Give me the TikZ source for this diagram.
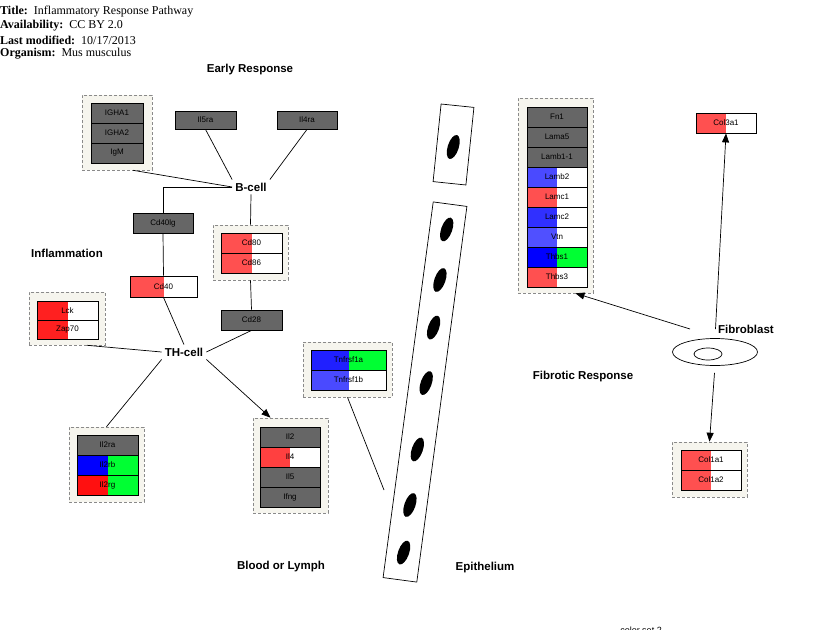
\documentclass[tikz,border=0pt]{standalone}
\usepackage{fontspec}
\setmainfont{Liberation Serif}
\setsansfont{Liberation Sans}
\usetikzlibrary{arrows.meta,shapes.geometric}

\definecolor{genegray}{HTML}{666666}
\definecolor{groupfill}{HTML}{F6F5EE}
\definecolor{groupline}{HTML}{8A8A8A}
\definecolor{softred}{HTML}{FF5050}
\definecolor{deepred}{HTML}{FF2020}
\definecolor{brightred}{HTML}{FF1010}
\definecolor{midred}{HTML}{FF4040}
\definecolor{pureblue}{HTML}{0000FF}
\definecolor{darkblue}{HTML}{2020FF}
\definecolor{midblue}{HTML}{3030FF}
\definecolor{softblue}{HTML}{4A4AFF}
\definecolor{paleblue}{HTML}{5050FF}
\definecolor{upgreen}{HTML}{00FF33}

\begin{document}
\begin{tikzpicture}[x=1pt,y=-1pt,
    gene/.style={draw=black, line width=0.8pt, fill=genegray, minimum width=60,
      minimum height=20, inner sep=0pt, font=\sffamily\fontsize{8}{9}\selectfont},
    twotone/.style 2 args={path picture={
      \fill[#1] (path picture bounding box.south west) rectangle (path picture bounding box.north);
      \fill[#2] (path picture bounding box.south) rectangle (path picture bounding box.north east);}},
    group/.style={draw=groupline, fill=groupfill, line width=0.6pt,
      dash pattern=on 3pt off 2pt, inner sep=0pt},
    region/.style={font=\sffamily\bfseries\fontsize{11.5}{13}\selectfont, inner sep=3pt},
    meta/.style={anchor=west, inner sep=0pt, font=\fontsize{12}{14}\selectfont},
    link/.style={line width=0.7pt},
    push/.style={link, -{Triangle[length=9pt,width=7pt]}}]
  \useasboundingbox (0,0) rectangle (818,629);

  % header
  \node[meta] (title) at (0,12) {\textbf{Title:}\ \ Inflammatory Response Pathway};
  \node[meta] (avail) at (0,26) {\textbf{Availability:}\ \ CC BY 2.0};
  \node[meta] (modif) at (0,40) {\textbf{Last modified:}\ \ 10/17/2013};
  \node[meta] (organ) at (0,54) {\textbf{Organism:}\ \ Mus musculus};

  % region labels
  \node[region] (early) at (250,70) {Early Response};
  \node[region] (bcell) at (251,187) {B-cell};
  \node[region] (inflam) at (67,253) {Inflammation};
  \node[region] (thcell) at (184,352) {TH-cell};
  \node[region] (fibresp) at (583,377) {Fibrotic Response};
  \node[region] (fiblab) at (746,329) {Fibroblast};
  \node[region] (blood) at (281,567) {Blood or Lymph};
  \node[region] (epilab) at (485,568) {Epithelium};
  \node[font=\sffamily\fontsize{9}{10}\selectfont, anchor=base] (cset) at (641,633) {color set 2};

  % groups
  \node[group, minimum width=70, minimum height=75] (grpIg) at (117,132.5) {};
  \node[group, minimum width=75, minimum height=55] (grpCd80) at (250.5,252.5) {};
  \node[group, minimum width=76, minimum height=53] (grpLck) at (67,318.5) {};
  \node[group, minimum width=75, minimum height=75] (grpIl2ra) at (106.5,464.5) {};
  \node[group, minimum width=75, minimum height=95] (grpIl2) at (290.5,465.5) {};
  \node[group, minimum width=89, minimum height=55] (grpTnf) at (347.5,369.5) {};
  \node[group, minimum width=75, minimum height=195] (grpFn) at (555.5,195.5) {};
  \node[group, minimum width=75, minimum height=55] (grpCol1a) at (709.5,469.5) {};

  % genes
  \node[gene, minimum width=52] (igha1) at (117,113) {IGHA1};
  \node[gene, minimum width=52] (igha2) at (117,133) {IGHA2};
  \node[gene, minimum width=52] (igm) at (117,153) {IgM};
  \node[gene, minimum width=61, minimum height=18] (il5ra) at (205.5,120) {Il5ra};
  \node[gene, minimum height=18] (il4ra) at (307,120) {Il4ra};
  \node[gene] (cd40lg) at (163,223) {Cd40lg};
  \node[gene, minimum width=67, minimum height=21, twotone={softred}{white}] (cd40) at (163.5,286.5) {Cd40};
  \node[gene, minimum width=61, twotone={softred}{white}] (cd80) at (251.5,243) {Cd80};
  \node[gene, minimum width=61, twotone={softred}{white}] (cd86) at (251.5,263) {Cd86};
  \node[gene, minimum width=61] (cd28) at (251.5,320) {Cd28};
  \node[gene, minimum width=61, minimum height=19, twotone={deepred}{white}] (lck) at (67.5,310.5) {Lck};
  \node[gene, minimum width=61, minimum height=19, twotone={deepred}{white}] (zap70) at (67.5,329.5) {Zap70};
  \node[gene, minimum width=61] (il2ra) at (107.5,445) {Il2ra};
  \node[gene, minimum width=61, twotone={pureblue}{upgreen}] (il2rb) at (107.5,465) {Il2rb};
  \node[gene, minimum width=61, twotone={brightred}{upgreen}] (il2rg) at (107.5,485) {Il2rg};
  \node[gene] (il2) at (290,437) {Il2};
  \node[gene, twotone={midred}{white}] (il4) at (290,457) {Il4};
  \node[gene] (il5) at (290,477) {Il5};
  \node[gene] (ifng) at (290,497) {Ifng};
  \node[gene, minimum width=75, twotone={darkblue}{upgreen}] (tnf1a) at (348.5,360) {Tnfrsf1a};
  \node[gene, minimum width=75, twotone={softblue}{white}] (tnf1b) at (348.5,380) {Tnfrsf1b};
  \node[gene] (fn1) at (557,117) {Fn1};
  \node[gene] (lama5) at (557,137) {Lama5};
  \node[gene] (lamb11) at (557,157) {Lamb1-1};
  \node[gene, twotone={softblue}{white}] (lamb2) at (557,177) {Lamb2};
  \node[gene, twotone={softred}{white}] (lamc1) at (557,197) {Lamc1};
  \node[gene, twotone={midblue}{white}] (lamc2) at (557,217) {Lamc2};
  \node[gene, twotone={paleblue}{white}] (vtn) at (557,237) {Vtn};
  \node[gene, twotone={pureblue}{upgreen}] (thbs1) at (557,257) {Thbs1};
  \node[gene, twotone={softred}{white}] (thbs3) at (557,277) {Thbs3};
  \node[gene, twotone={softred}{white}] (col3a1) at (726,123) {Col3a1};
  \node[gene, twotone={softred}{white}] (col1a1) at (711,460) {Col1a1};
  \node[gene, twotone={softred}{white}] (col1a2) at (711,480) {Col1a2};

  % fibroblast
  \node[ellipse, draw, link, inner sep=0pt, minimum width=85, minimum height=27] (fib) at (715,352) {};
  \node[ellipse, draw, link, inner sep=0pt, minimum width=28, minimum height=12] (fibcore) at (708,354) {};

  % epithelium
  \begin{scope}[shift={(453.5,144.5)}, rotate=-5.9]
    \draw[link] (-16.5,-39) rectangle (16.5,39);
    \fill[rotate around={-12:(0,2.5)}] (0,2.5) ellipse (5.5 and 12.5);
  \end{scope}
  \begin{scope}[shift={(425,392)}, rotate=-7.6]
    \draw[link] (-17,-189.5) rectangle (17,189.5);
    \foreach \t in {-164,-113,-65,-9,58,114,162}
      \fill[rotate around={-12:(0,\t)}] (0,\t) ellipse (5.5 and 12.5);
  \end{scope}
  \coordinate (epi) at (384,490);

  % connectors
  \draw[link] ([xshift=16]grpIg.south) -- (bcell.west);
  \draw[link] (il5ra.south) -- (bcell.north west);
  \draw[link] (il4ra.south) -- (bcell.north east);
  \draw[link] (bcell.west) -| (cd40lg.north);
  \draw[link] (bcell.south) -- (grpCd80.north);
  \draw[link] (cd40lg.south) -- (cd40.north);
  \draw[link] (grpCd80.south) -- (cd28.north);
  \draw[link] (cd40.south) -- (thcell.north);
  \draw[link] (cd28.south) -- (thcell.east);
  \draw[link] ([xshift=20]grpLck.south) -- (thcell.west);
  \draw[link] (thcell.south west) -- (grpIl2ra.north);
  \draw[push] (thcell.south east) -- ([xshift=-20]grpIl2.north);
  \draw[link] (grpTnf.south) -- (epi);
  \draw[push, shorten <=9pt] (fib.north) -- (col3a1.south);
  \draw[push, shorten <=7pt] (fib.south) -- (grpCol1a.north);
  \draw[push] ([shift={(-25,-23)}]fib.center) -- ([xshift=20]grpFn.south);
\end{tikzpicture}
\end{document}
